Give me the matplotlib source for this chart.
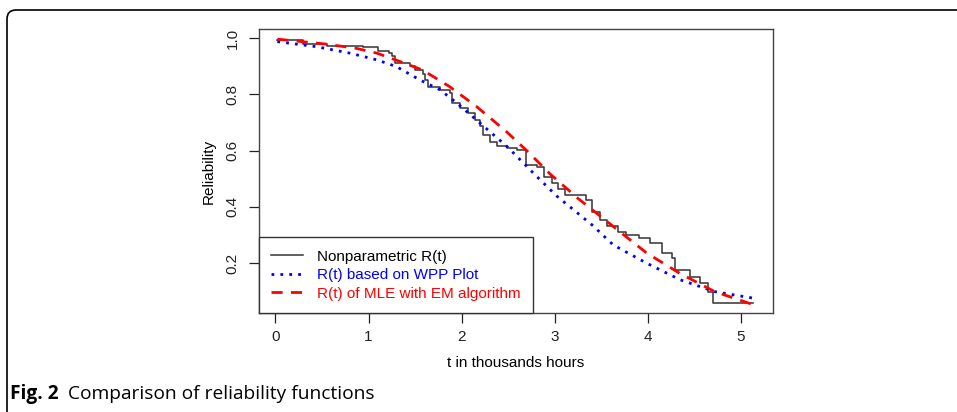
import matplotlib.pyplot as plt
import matplotlib.patches as mpatches
from matplotlib.transforms import IdentityTransform

plt.rcParams["font.family"] = ["Liberation Sans", "DejaVu Sans"]

# nonparametric (step) estimate
km_t = [0.02, 0.30, 0.55, 0.94, 1.10, 1.22, 1.25, 1.28, 1.44, 1.50, 1.58, 1.61, 1.64, 1.77, 1.87, 1.90,
        1.98, 2.07, 2.14, 2.20, 2.23, 2.30, 2.38, 2.49, 2.60, 2.69, 2.81, 2.88, 2.97, 3.04, 3.11, 3.34,
        3.40, 3.49, 3.56, 3.68, 3.77, 3.91, 4.02, 4.15, 4.26, 4.29, 4.45, 4.56, 4.65, 4.70, 5.13]
km_r = [0.994, 0.979, 0.974, 0.968, 0.956, 0.946, 0.937, 0.913, 0.900, 0.887, 0.873, 0.850, 0.828, 0.816,
        0.805, 0.770, 0.752, 0.734, 0.710, 0.686, 0.656, 0.632, 0.618, 0.610, 0.603, 0.549, 0.542, 0.507,
        0.485, 0.465, 0.442, 0.425, 0.383, 0.353, 0.330, 0.312, 0.300, 0.288, 0.270, 0.236, 0.217, 0.175,
        0.150, 0.129, 0.098, 0.058, 0.058]

# R(t) based on WPP plot
wpp_t = [0.02, 0.44, 0.80, 1.09, 1.30, 1.55, 1.77, 1.95, 2.16, 2.49, 2.81, 3.03, 3.40, 3.63, 3.99, 4.35, 4.72, 5.13]
wpp_r = [0.988, 0.970, 0.947, 0.923, 0.899, 0.852, 0.816, 0.769, 0.709, 0.614, 0.507, 0.436, 0.336, 0.264,
         0.199, 0.140, 0.098, 0.075]

# R(t) of MLE with EM algorithm
mle_t = [0.02, 0.55, 0.87, 1.09, 1.34, 1.58, 1.87, 2.16, 2.48, 2.70, 2.95, 3.25, 3.61, 3.99, 4.35, 4.72, 5.13]
mle_r = [0.997, 0.979, 0.964, 0.947, 0.917, 0.887, 0.828, 0.757, 0.668, 0.600, 0.517, 0.430, 0.335, 0.235,
         0.162, 0.098, 0.052]

labels = ["Nonparametric R(t)", "R(t) based on WPP Plot", "R(t) of MLE with EM algorithm"]
colors = ["#333333", "blue", "red"]

fig = plt.figure(figsize=(9.57, 4.12), dpi=100)
ax = fig.add_axes([259 / 957, 1 - 313 / 412, (772.5 - 259) / 957, (313 - 29) / 412])

ax.plot(km_t, km_r, drawstyle="steps-post", color=colors[0], lw=1.1, label=labels[0])
ax.plot(wpp_t, wpp_r, color=colors[1], lw=2, linestyle=(0, (1, 2.2)), label=labels[1])
ax.plot(mle_t, mle_r, color=colors[2], lw=2, linestyle=(0, (4, 3)), label=labels[2])

ax.set_xlim(-0.177, 5.34)
ax.set_ylim(0.022, 1.033)
ax.set_xticks([0, 1, 2, 3, 4, 5])
ax.set_yticks([0.2, 0.4, 0.6, 0.8, 1.0])
ax.set_yticklabels(["0.2", "0.4", "0.6", "0.8", "1.0"], rotation=90, va="center")
ax.tick_params(direction="out", length=7, width=0.9, labelsize=11, colors="#222222")
ax.tick_params(axis="x", pad=5)
ax.tick_params(axis="y", pad=7)
for s in ax.spines.values():
    s.set_linewidth(1.0)
    s.set_color("#444444")

ax.set_xlabel("t in thousands hours", fontsize=11, labelpad=9)
ax.set_ylabel("Reliability", fontsize=11, labelpad=7)

leg = ax.legend(loc="lower left", borderaxespad=0, fancybox=False, edgecolor="#333333",
                fontsize=11, handlelength=2.1, labelspacing=0.3, borderpad=0.8,
                handletextpad=0.9, framealpha=1)
leg.get_frame().set_linewidth(1.0)
for txt, c in zip(leg.get_texts(), ["black", "blue", "red"]):
    txt.set_color(c)

# journal frame with a rounded corner
frame = mpatches.FancyBboxPatch((7, -30), 1000, 412 - 10 + 30, boxstyle="round,pad=0,rounding_size=9",
                                transform=IdentityTransform(), fill=False, edgecolor="black", lw=1.2)
fig.add_artist(frame)

cap_font = ["Open Sans", "DejaVu Sans"]
t1 = fig.text(10 / 957, 1 - 399 / 412, "Fig. 2", fontsize=13.8, fontweight="bold", family=cap_font)
fig.canvas.draw()
bb = t1.get_window_extent()
fig.text((bb.x1 + 9) / 957, 1 - 399 / 412, "Comparison of reliability functions", fontsize=13.8,
         family=cap_font)

fig.savefig("out.png", dpi=100)
